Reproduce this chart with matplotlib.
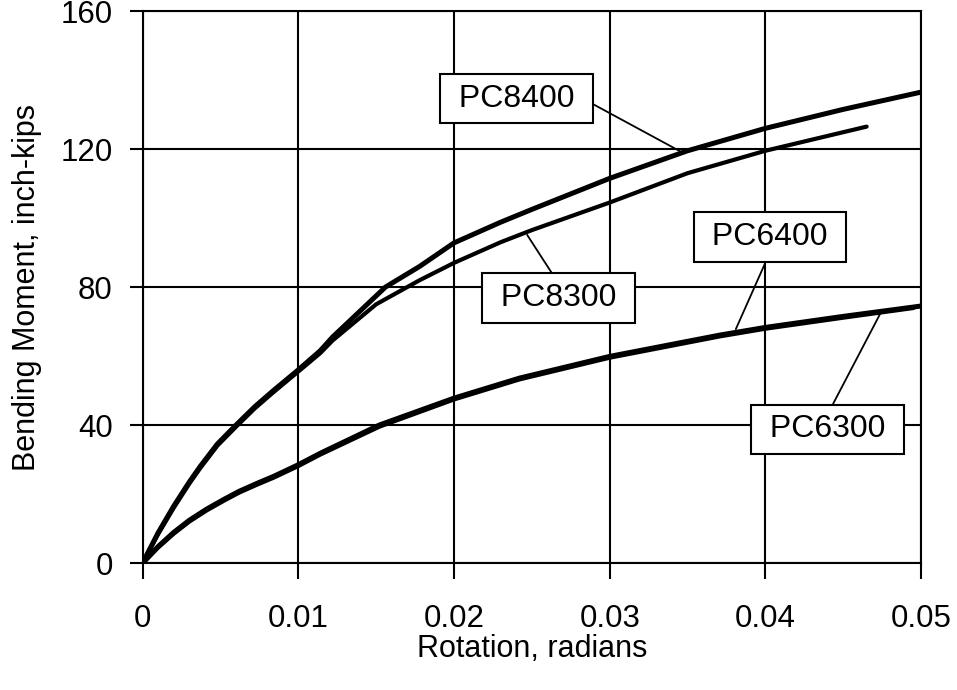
import matplotlib.pyplot as plt

plt.rcParams['font.family'] = ['Liberation Sans', 'DejaVu Sans']

# ________________________ Datos _______________________________________________

x_pc8400 = [0, 0.001, 0.002, 0.003, 0.0037, 0.0048, 0.006, 0.0072, 0.0084, 0.01,
            0.0114, 0.0122, 0.0156, 0.0178, 0.02, 0.023, 0.025, 0.03, 0.035,
            0.04, 0.045, 0.05]
m_pc8400 = [0, 8.8, 16.5, 23.5, 28, 34.5, 40, 45.3, 50, 56,
            61.5, 65.5, 80, 86, 92.8, 98.8, 102.5, 111.5, 119.5,
            126, 131.5, 136.5]

x_pc8300 = [0, 0.001, 0.002, 0.003, 0.0037, 0.0048, 0.006, 0.0072, 0.0084, 0.01,
            0.0114, 0.0122, 0.015, 0.017, 0.0178, 0.02, 0.023, 0.025, 0.03,
            0.035, 0.04, 0.0465]
m_pc8300 = [0, 8.4, 16, 23, 27.5, 34, 39.5, 44.8, 49.5, 55.5,
            60.8, 64.5, 75, 80, 82, 87, 93, 96.5, 104.5,
            113, 119.5, 126.5]

x_pc6400 = [0, 0.001, 0.002, 0.003, 0.0041, 0.0052, 0.0062, 0.0074, 0.0084, 0.01,
            0.0114, 0.0152, 0.02, 0.0242, 0.03, 0.0371, 0.04, 0.045, 0.05]
m_pc6400 = [0, 4.8, 8.9, 12.4, 15.6, 18.4, 20.8, 23.2, 25.1, 28.5,
            31.8, 40, 47.8, 53.6, 59.9, 66.1, 68.3, 71.5, 74.5]

x_pc6300 = [0, 0.001, 0.002, 0.003, 0.0041, 0.0052, 0.0062, 0.0074, 0.0084, 0.01,
            0.0114, 0.0152, 0.02, 0.0242, 0.03, 0.0371, 0.04, 0.045, 0.0495]
m_pc6300 = [0, 4.6, 8.6, 12.1, 15.3, 18.1, 20.5, 22.9, 24.8, 28.2,
            31.5, 39.6, 47.5, 53.3, 59.6, 65.8, 68.0, 71.2, 74.0]

# etiquetas: (texto, posicion caja, punto sobre la curva, relpos de la linea)
etiquetas = [
    ('PC8400', (0.0240, 134.6), (0.0345, 119.4), (1.0, 0.5)),
    ('PC8300', (0.0267, 76.8), (0.0247, 95.1), (0.5, 1.0)),
    ('PC6400', (0.0403, 94.5), (0.0381, 67.8), (0.5, 0.0)),
    ('PC6300', (0.0440, 38.8), (0.0474, 72.5), (0.5, 1.0)),
]

x_ticks = [0, 0.01, 0.02, 0.03, 0.04, 0.05]
x_ticklabels = ['0', '0.01', '0.02', '0.03', '0.04', '0.05']
y_ticks = [0, 40, 80, 120, 160]

# ________________________________ Grafica ____________________________________

fs = 22.5
fig = plt.figure(figsize=(9.57, 6.90), dpi=100)
ax = fig.add_axes([0.149, 0.184, 0.8135, 0.800])

ax.plot(x_pc8400, m_pc8400, color='black', lw=3.6, solid_capstyle='round',
        solid_joinstyle='round', zorder=3)
ax.plot(x_pc8300, m_pc8300, color='black', lw=3.0, solid_capstyle='round',
        solid_joinstyle='round', zorder=3)
ax.plot(x_pc6400, m_pc6400, color='black', lw=3.6, solid_capstyle='round',
        solid_joinstyle='round', zorder=3)
ax.plot(x_pc6300, m_pc6300, color='black', lw=3.4, solid_capstyle='round',
        solid_joinstyle='round', zorder=3)

for texto, caja, punto, rp in etiquetas:
    ax.annotate(' ' + texto + ' ', xy=punto, xytext=caja, fontsize=23,
                ha='center', va='center', zorder=5,
                bbox=dict(boxstyle='square,pad=0.3', fc='white', ec='black', lw=1.5),
                arrowprops=dict(arrowstyle='-', color='black', lw=1.3,
                                relpos=rp, shrinkA=0, shrinkB=0))

ax.set_xlim(0, 0.05)
ax.set_ylim(0, 160)
ax.set_xticks(x_ticks)
ax.set_xticklabels(x_ticklabels)
ax.set_yticks(y_ticks)
ax.grid(True, color='black', lw=1.5)
ax.set_axisbelow(True)

for s in ax.spines.values():
    s.set_linewidth(1.5)

ax.tick_params(axis='x', direction='out', length=11.5, width=1.5, pad=18, labelsize=fs)
ax.tick_params(axis='y', direction='out', length=9.5, width=1.5, pad=12, labelsize=fs)

ax.set_xlabel('Rotation, radians', fontsize=22, labelpad=0)
ax.set_ylabel('Bending Moment, inch-kips', fontsize=22, labelpad=13)

fig.savefig('out.png', dpi=100)
